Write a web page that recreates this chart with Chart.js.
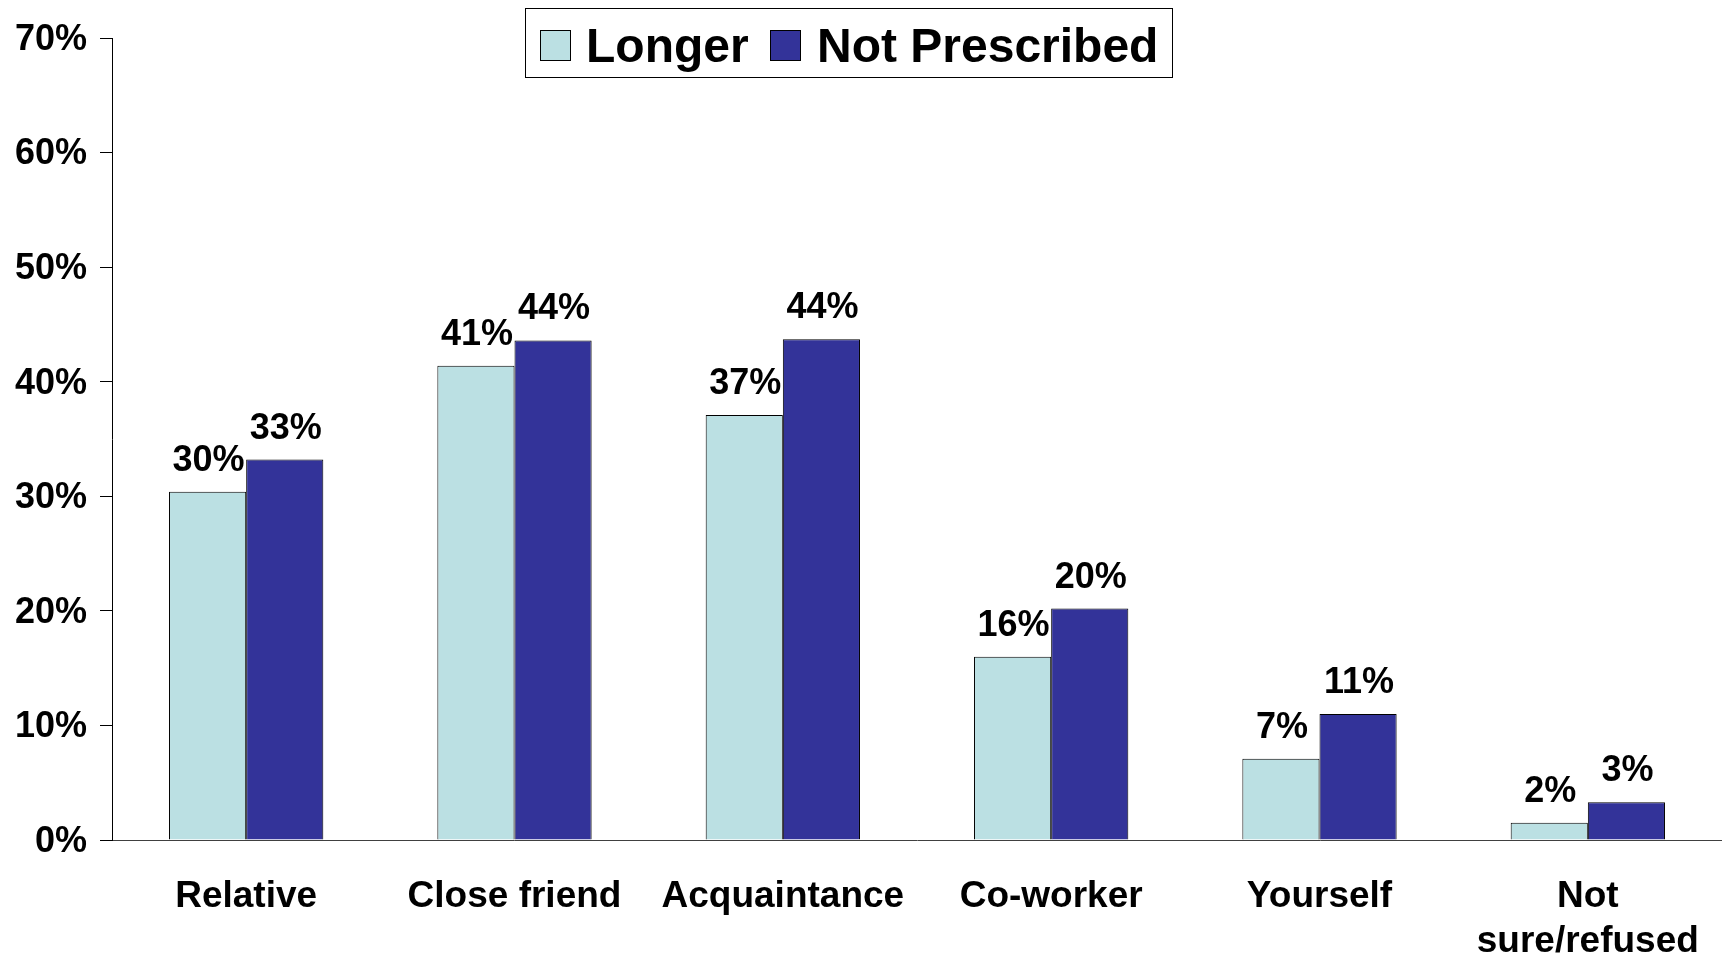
<!DOCTYPE html>
<html>
<head>
<meta charset="utf-8">
<script src="https://cdn.jsdelivr.net/npm/chart.js@4.4.1/dist/chart.umd.min.js"></script>
<style>
  html, body { margin: 0; padding: 0; background: #ffffff; }
  #wrap { width: 1722px; height: 956px; }
</style>
</head>
<body>
<div id="wrap"><canvas id="c" width="1722" height="956"></canvas></div>
<script>
const categories = ["Relative", "Close friend", "Acquaintance", "Co-worker", "Yourself", ["Not", "sure/refused"]];
const longerValues = [30.4, 41.4, 37.1, 16.0, 7.1, 1.5];
const notPrescribedValues = [33.2, 43.6, 43.7, 20.2, 11.0, 3.3];
const seriesNames = ["Longer", "Not Prescribed"];
const yTicks = [0, 10, 20, 30, 40, 50, 60, 70];

const FONT = "'Liberation Sans', Arial, Helvetica, sans-serif";

const dataLabelPlugin = {
  id: 'dataLabels',
  afterDatasetsDraw(chart) {
    const ctx = chart.ctx;
    ctx.save();
    ctx.font = "bold 36px " + FONT;
    ctx.fillStyle = "#000000";
    ctx.textAlign = "center";
    ctx.textBaseline = "alphabetic";
    chart.data.datasets.forEach((ds, di) => {
      const meta = chart.getDatasetMeta(di);
      meta.data.forEach((bar, i) => {
        const txt = Math.round(ds.data[i]) + "%";
        ctx.fillText(txt, bar.x + 1, bar.y - 21);
      });
    });
    ctx.restore();
  }
};

const boxLegendPlugin = {
  id: 'boxLegend',
  afterDraw(chart) {
    const ctx = chart.ctx;
    ctx.save();
    ctx.strokeStyle = "#000000";
    ctx.lineWidth = 1;
    ctx.fillStyle = "#ffffff";
    ctx.fillRect(525.5, 8.5, 647, 69);
    ctx.strokeRect(525.5, 8.5, 647, 69);
    const items = [
      { sw: 540, tx: 586 },
      { sw: 770, tx: 817 }
    ];
    ctx.font = "bold 48px " + FONT;
    ctx.textBaseline = "alphabetic";
    ctx.textAlign = "left";
    chart.data.datasets.forEach((ds, i) => {
      const it = items[i];
      ctx.fillStyle = ds.backgroundColor;
      ctx.fillRect(it.sw + 0.5, 30.5, 30, 30);
      ctx.strokeStyle = "#000000";
      ctx.strokeRect(it.sw + 0.5, 30.5, 30, 30);
      ctx.fillStyle = "#000000";
      ctx.fillText(ds.label, it.tx, 62);
    });
    ctx.restore();
  }
};

new Chart(document.getElementById('c'), {
  type: 'bar',
  data: {
    labels: categories,
    datasets: [
      {
        label: seriesNames[0],
        data: longerValues,
        backgroundColor: "#BBE0E3",
        borderColor: "#000000",
        borderWidth: 1,
        categoryPercentage: 0.575,
        barPercentage: 1.0
      },
      {
        label: seriesNames[1],
        data: notPrescribedValues,
        backgroundColor: "#333399",
        borderColor: "#000000",
        borderWidth: 1,
        categoryPercentage: 0.575,
        barPercentage: 1.0
      }
    ]
  },
  options: {
    responsive: false,
    animation: false,
    layout: { padding: { top: 38, bottom: 0, left: 0, right: 0 } },
    plugins: {
      legend: { display: false },
      tooltip: { enabled: false },
      title: { display: false }
    },
    scales: {
      x: {
        grid: { display: false, drawTicks: false },
        border: { display: true, color: "#404040", width: 1 },
        ticks: {
          color: "#000000",
          font: { family: FONT, size: 37, weight: "bold", lineHeight: 1.22 },
          padding: 34,
          maxRotation: 0,
          minRotation: 0,
          autoSkip: false
        },
        afterFit(scale) {
          scale.height = 116;
          scale.paddingLeft = 0;
          scale.paddingRight = 0;
        }
      },
      y: {
        min: 0,
        max: 70,
        afterBuildTicks(scale) { scale.ticks = yTicks.map(v => ({ value: v })); },
        grid: {
          display: true,
          drawOnChartArea: false,
          drawTicks: true,
          tickLength: 12,
          color: "#000000",
          lineWidth: 1
        },
        border: { display: true, color: "#000000", width: 1 },
        ticks: {
          color: "#000000",
          font: { family: FONT, size: 36, weight: "bold" },
          padding: 13,
          labelOffset: 2,
          callback: (v) => v + "%"
        },
        afterFit(scale) { scale.width = 112; }
      }
    }
  },
  plugins: [dataLabelPlugin, boxLegendPlugin]
});
</script>
</body>
</html>
